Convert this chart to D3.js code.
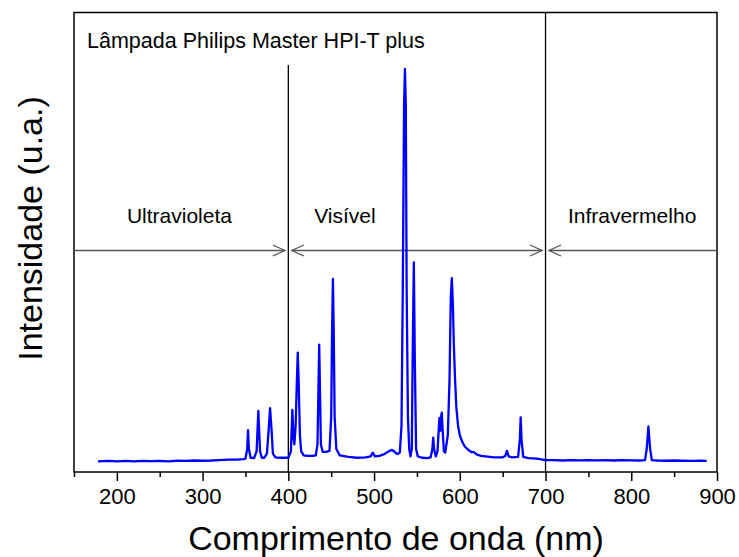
<!DOCTYPE html>
<html>
<head>
<meta charset="utf-8">
<script src="https://cdn.jsdelivr.net/npm/d3@7"></script>
<style>
  html, body { margin: 0; padding: 0; background: #fff; }
  svg text { font-family: "Liberation Sans", Arial, sans-serif; fill: #000; }
</style>
</head>
<body>
<svg id="chart" width="739" height="557"></svg>
<script>
// ---- data ----
const wavelengths = [
  178,190,200,210,220,230,240,250,260,270,280,290,300,310,320,330,340,348,
  350,352,353,354,356,
  360,363,365,367,369,
  372,375,377,378.7,380.5,382,385,390,395,400,
  403,404.7,406,407,408.5,410,411,412,413.5,415,418,422,428,432,
  434,436,438,440,444,448,450,451,452,453,454,456,460,470,480,490,496,498.5,501,506,512,518,521,524,527,530,
  532,533.5,535,536,537,538,539.5,541,542.5,544,545,546.4,547.5,549,551,556,562,566,
  568,569,570,572,574,575.5,576.3,577.5,578.5,579,580,581.5,583,
  586,588,589.5,590.7,592,593,594.5,596,598,600,603,606,610,614,616,620,625,630,640,650,
  653,655,657,661,668,670,671,672,674,680,690,700,710,720,730,740,750,760,770,780,790,800,810,
  816,818,820,822,824,830,840,850,860,870,880,888
];
const intensity = [
  2.3,2.4,2.3,2.4,2.3,2.4,2.35,2.4,2.3,2.45,2.4,2.5,2.45,2.5,2.6,2.7,2.7,2.8,
  2.9,5.0,9.1,5.0,3.1,
  3.0,4.5,13.3,4.5,3.1,
  3.1,4.0,9.0,13.9,9.0,4.0,3.2,3.1,3.1,3.1,
  4.5,13.5,7.5,6.0,10.0,20.0,26.0,20.0,8.0,4.5,3.6,3.5,3.5,3.6,
  6.0,27.7,6.0,4.4,4.4,4.6,12.0,30.0,42.0,30.0,12.0,5.0,3.6,3.3,3.1,3.2,3.4,4.2,3.4,3.5,3.9,4.6,4.8,4.4,3.9,4.2,
  10.0,40.0,80.0,87.7,80.0,40.0,12.0,5.0,3.4,5.0,25.0,45.6,25.0,5.0,3.4,3.1,3.0,3.2,
  5.0,7.5,5.0,3.4,4.5,9.5,11.8,9.0,12.5,12.9,9.0,4.5,4.2,
  8.0,20.0,38.0,42.2,36.0,28.0,20.0,14.0,10.0,8.0,6.5,5.5,4.8,4.3,4.4,3.8,3.5,3.4,3.2,3.2,
  3.5,4.6,3.4,3.2,3.3,7.0,11.9,7.0,3.3,3.0,2.9,2.6,2.6,2.5,2.6,2.55,2.6,2.55,2.6,2.5,2.6,2.55,2.5,
  2.6,5.0,9.9,5.0,2.6,2.5,2.45,2.5,2.45,2.4,2.45,2.4
];
const xMajorTicks = [200,300,400,500,600,700,800,900];
const xMinorTicks = [150,250,350,450,550,650,750,850];
const regionBounds = [400, 700];
const regionLabels = ["Ultravioleta", "Visível", "Infravermelho"];
const regionLabelX = [273, 466, 801];
const lampTitle = "Lâmpada Philips Master HPI-T plus";
const xTitle = "Comprimento de onda (nm)";
const yTitle = "Intensidade (u.a.)";
const arrowLevel = 48.2;
const uvLineTop = 88.6;

// ---- layout ----
const svg = d3.select("#chart");
const pL = 74, pR = 717, pT = 12.5, pB = 472;
const x = d3.scaleLinear().domain([150, 900]).range([pL, pR]);
const y = d3.scaleLinear().domain([0, 100]).range([pB, pT]);

// frame
svg.append("rect")
  .attr("x", pL).attr("y", pT)
  .attr("width", pR - pL).attr("height", pB - pT)
  .attr("fill", "none").attr("stroke", "#000").attr("stroke-width", 1.5);

// x axis
const gx = svg.append("g").attr("transform", `translate(0,${pB})`);
gx.call(d3.axisBottom(x).tickValues(xMajorTicks).tickSize(9).tickPadding(7).tickFormat(d3.format("d")))
  .call(g => g.select(".domain").remove())
  .call(g => g.selectAll(".tick line").attr("stroke", "#000").attr("stroke-width", 1.5))
  .call(g => g.selectAll(".tick text").attr("font-size", 22).attr("font-family", "Liberation Sans, Arial, sans-serif").attr("fill", "#000"));
const gxm = svg.append("g").attr("transform", `translate(0,${pB})`);
gxm.call(d3.axisBottom(x).tickValues(xMinorTicks).tickSize(5).tickFormat(""))
  .call(g => g.select(".domain").remove())
  .call(g => g.selectAll(".tick line").attr("stroke", "#000").attr("stroke-width", 1.5));

// region vertical lines
svg.append("line")
  .attr("x1", x(regionBounds[0])).attr("x2", x(regionBounds[0]))
  .attr("y1", y(uvLineTop)).attr("y2", pB)
  .attr("stroke", "#000").attr("stroke-width", 1.3);
svg.append("line")
  .attr("x1", x(regionBounds[1])).attr("x2", x(regionBounds[1]))
  .attr("y1", pT).attr("y2", pB)
  .attr("stroke", "#000").attr("stroke-width", 1.3);

// arrows
const ay = y(arrowLevel);
const gap = 3.5, ah = 12, aw = 5.5;
const arrowG = svg.append("g").attr("stroke", "#555").attr("stroke-width", 1.3).attr("fill", "none");
function head(tipX, dir) { // dir = +1 pointing right, -1 pointing left
  arrowG.append("path")
    .attr("d", `M${tipX - dir * ah},${ay - aw} L${tipX},${ay} L${tipX - dir * ah},${ay + aw}`);
}
const x400 = x(regionBounds[0]), x700 = x(regionBounds[1]);
arrowG.append("line").attr("x1", pL).attr("x2", x400 - gap).attr("y1", ay).attr("y2", ay);
head(x400 - gap, 1);
arrowG.append("line").attr("x1", x400 + gap).attr("x2", x700 - gap).attr("y1", ay).attr("y2", ay);
head(x400 + gap, -1);
head(x700 - gap, 1);
arrowG.append("line").attr("x1", x700 + gap).attr("x2", pR).attr("y1", ay).attr("y2", ay);
head(x700 + gap, -1);

// spectrum
const pts = wavelengths.map((w, i) => [w, intensity[i]]);
svg.append("path")
  .datum(pts)
  .attr("fill", "none")
  .attr("stroke", "#0000ff")
  .attr("stroke-width", 2.3)
  .attr("stroke-linejoin", "round")
  .attr("d", d3.line().x(d => x(d[0])).y(d => y(d[1])));

// region labels
regionLabels.forEach((t, i) => {
  svg.append("text")
    .attr("x", x(regionLabelX[i])).attr("y", 223)
    .attr("text-anchor", "middle").attr("font-size", 21)
    .text(t);
});

// title inside
svg.append("text").attr("x", 87).attr("y", 48).attr("font-size", 21.5).text(lampTitle);

// axis titles
svg.append("text")
  .attr("x", 396).attr("y", 550)
  .attr("text-anchor", "middle").attr("font-size", 34)
  .text(xTitle);
svg.append("text")
  .attr("transform", `translate(42,${(92 + 365) / 2}) rotate(-90)`)
  .attr("text-anchor", "middle").attr("font-size", 34)
  .text(yTitle);
</script>
</body>
</html>
